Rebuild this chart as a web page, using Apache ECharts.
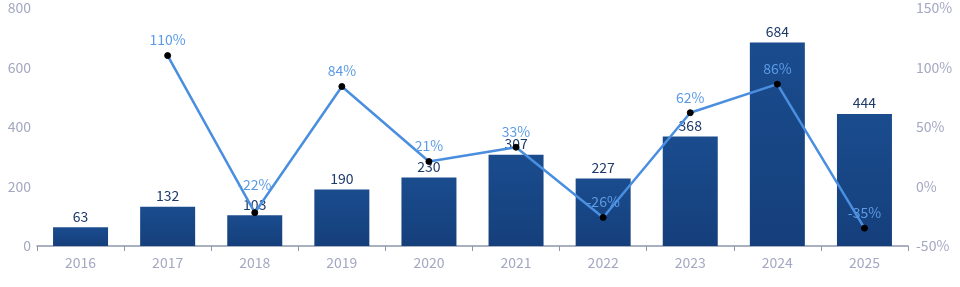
<!DOCTYPE html>
<html><head><meta charset="utf-8">
<script src="https://cdn.jsdelivr.net/npm/echarts@6/dist/echarts.min.js"></script>
<style>html,body{margin:0;padding:0;background:#fff}#c{width:960px;height:287px}</style>
</head><body><div id="c"></div>
<script>
var years = ['2016','2017','2018','2019','2020','2021','2022','2023','2024','2025'];
var counts = [63,132,103,190,230,307,227,368,684,444];
var growth = [null,110,-22,84,21,33,-26,62,86,-35];
var leftTicks = [0,200,400,600,800];
var rightTicks = [-50,0,50,100,150];

var chart = echarts.init(document.getElementById('c'));
var font = '"Noto Sans CJK SC", "Noto Sans", sans-serif';
chart.setOption({
  animation:false,
  grid:{left:37,right:52,top:8,bottom:41},
  xAxis:{type:'category',data:years,
    axisLine:{lineStyle:{color:'#8d96ac',width:1.5}},
    axisTick:{show:true,length:5,lineStyle:{color:'#8d96ac'}},
    axisLabel:{color:'#a4a7c2',fontSize:14,fontFamily:font,margin:10}},
  yAxis:[
    {type:'value',min:leftTicks[0],max:leftTicks[leftTicks.length-1],interval:200,
     splitLine:{show:false},axisLine:{show:false},axisTick:{show:false},
     axisLabel:{color:'#a4a7c2',fontSize:14,fontFamily:font,margin:6}},
    {type:'value',min:rightTicks[0],max:rightTicks[rightTicks.length-1],interval:50,
     splitLine:{show:false},axisLine:{show:false},axisTick:{show:false},
     axisLabel:{color:'#a4a7c2',fontSize:14,fontFamily:font,margin:8,formatter:'{value}%'}}
  ],
  series:[
    {type:'bar',data:counts,barWidth:55,
     itemStyle:{color:new echarts.graphic.LinearGradient(0,0,0,1,[{offset:0,color:'#1a4c8e'},{offset:1,color:'#153f7b'}])},
     label:{show:true,position:'top',distance:4,color:'#1d3a6a',fontSize:14,fontFamily:font}},
    {type:'line',yAxisIndex:1,
     data:growth.map(function(v,i){ return i===2 ? {value:v,label:{offset:[0,-12]}} : v; }),
     symbol:'circle',symbolSize:6,
     itemStyle:{color:'#000',borderColor:'#000'},
     lineStyle:{color:'#4a8ee0',width:2.5},
     label:{show:true,position:'top',distance:5,color:'#5b9be6',fontSize:14,fontFamily:font,formatter:'{c}%'}}
  ]
});
</script></body></html>
